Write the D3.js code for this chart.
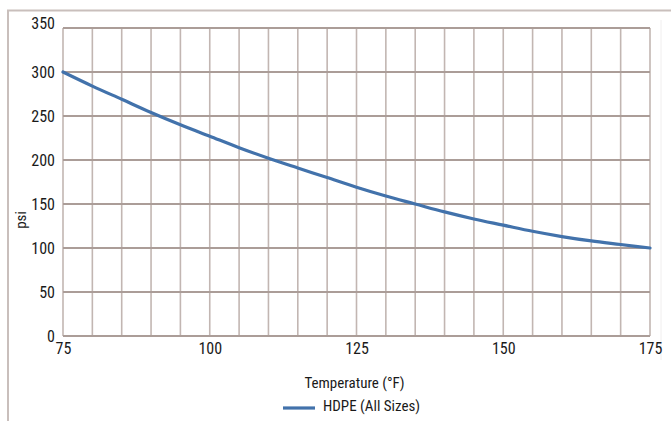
<!DOCTYPE html>
<html>
<head>
<meta charset="utf-8">
<script src="https://cdn.jsdelivr.net/npm/d3@7/dist/d3.min.js"></script>
<style>
  html, body { margin: 0; padding: 0; background: #ffffff; }
  svg { display: block; }
  text { font-family: "Liberation Sans Narrow", "Arial Narrow", "Roboto Condensed", "Liberation Sans", sans-serif; fill: #1a1a1a; }
</style>
</head>
<body>
<svg id="chart" width="671" height="421"></svg>
<script>
// ---- data ----
const temperatures = [75, 80, 85, 90, 95, 100, 105, 110, 115, 120, 125, 130, 135, 140, 145, 150, 155, 160, 165, 170, 175];
const psiValues   = [300, 284, 269, 254, 240, 227, 214, 202, 191, 180, 169, 159, 150, 141, 133, 126, 119, 113, 108, 104, 100];
const xTickLabels = [75, 100, 125, 150, 175];
const yTickLabels = [0, 50, 100, 150, 200, 250, 300, 350];
const seriesName = "HDPE (All Sizes)";
const xTitle = "Temperature (°F)";
const yTitle = "psi";

// ---- layout ----
const W = 671, H = 421;
const plot = { left: 63, top: 28, right: 650, bottom: 336 };

const svg = d3.select("#chart");

// outer frame
svg.append("line").attr("x1", 8).attr("x2", 8).attr("y1", 10).attr("y2", H)
  .attr("stroke", "#c9bfbc").attr("stroke-width", 2);
svg.append("line").attr("x1", 7).attr("x2", W).attr("y1", 10.5).attr("y2", 10.5)
  .attr("stroke", "#c9bfbc").attr("stroke-width", 2);
svg.append("line").attr("x1", 661).attr("x2", 661).attr("y1", 20).attr("y2", 360)
  .attr("stroke", "#f0eeee").attr("stroke-width", 1);

const x = d3.scaleLinear().domain([75, 175]).range([plot.left, plot.right]);
const y = d3.scaleLinear().domain([0, 350]).range([plot.bottom, plot.top]);

// vertical grid (every 5 °F)
const vTicks = d3.range(75, 176, 5);
svg.append("g").selectAll("line").data(vTicks).join("line")
  .attr("x1", d => x(d)).attr("x2", d => x(d))
  .attr("y1", plot.top).attr("y2", plot.bottom)
  .attr("stroke", "#c2b6b2").attr("stroke-width", 1.6);

// horizontal grid
svg.append("g").selectAll("line").data(yTickLabels).join("line")
  .attr("x1", plot.left).attr("x2", plot.right)
  .attr("y1", d => y(d)).attr("y2", d => y(d))
  .attr("stroke", "#ab9d98").attr("stroke-width", 2);

// y axis tick labels
const yAxis = d3.axisLeft(y).tickValues(yTickLabels).tickSize(0).tickPadding(8);
const gy = svg.append("g").attr("transform", `translate(${plot.left},0)`).call(yAxis);
gy.select(".domain").remove();
gy.selectAll("text").style("font-size", "16px").attr("fill", "#1a1a1a")
  .attr("dy", d => d === 350 ? "-0.0em" : "0.32em");

// x axis tick labels
const xAxis = d3.axisBottom(x).tickValues(xTickLabels).tickSize(0).tickPadding(7);
const gx = svg.append("g").attr("transform", `translate(0,${plot.bottom})`).call(xAxis);
gx.select(".domain").remove();
gx.selectAll("text").style("font-size", "16px").attr("fill", "#1a1a1a");

// axis titles
svg.append("text").attr("x", (plot.left + plot.right) / 2 - 2).attr("y", 388)
  .attr("text-anchor", "middle").style("font-size", "15px").text(xTitle);
svg.append("text").attr("transform", "translate(26,220) rotate(-90)")
  .attr("text-anchor", "middle").style("font-size", "15px").text(yTitle);

// series line
const line = d3.line().x((d, i) => x(temperatures[i])).y(d => y(d)).curve(d3.curveMonotoneX);
svg.append("path").datum(psiValues).attr("d", line)
  .attr("fill", "none").attr("stroke", "#4272ab").attr("stroke-width", 3.2)
  .attr("stroke-linecap", "round");

// legend
svg.append("line").attr("x1", 283).attr("x2", 315).attr("y1", 408).attr("y2", 408)
  .attr("stroke", "#4272ab").attr("stroke-width", 3.2);
svg.append("text").attr("x", 323).attr("y", 410.5).style("font-size", "15px").text(seriesName);
</script>
</body>
</html>
